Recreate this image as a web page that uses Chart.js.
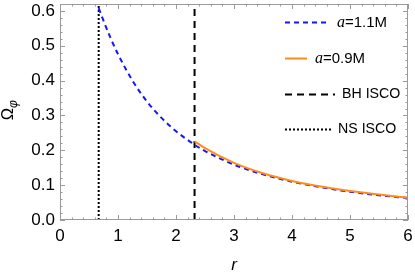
<!DOCTYPE html>
<html><head><meta charset="utf-8">
<script src="https://cdn.jsdelivr.net/npm/chart.js@4.4.0/dist/chart.umd.min.js"></script>
<style>html,body{margin:0;padding:0;background:#fff}</style>
</head><body>
<canvas id="c" width="415" height="280"></canvas>
<script>
// ---- data ----
const rBlue = [0.667, 0.75, 0.875, 1.0, 1.25, 1.5, 1.75, 2.0, 2.33, 2.5, 3.0, 3.5, 4.0, 4.5, 5.0, 5.5, 6.0];
const omegaBlue = [0.608, 0.572, 0.521, 0.476, 0.400, 0.340, 0.293, 0.255, 0.215, 0.198, 0.159, 0.131, 0.110, 0.094, 0.081, 0.071, 0.063];
const rOrange = [2.32, 2.5, 3.0, 3.5, 4.0, 4.5, 5.0, 5.5, 6.0];
const omegaOrange = [0.226, 0.206, 0.164, 0.134, 0.112, 0.096, 0.083, 0.073, 0.064];
const bhIsco = 2.32;
const nsIsco = 0.667;
const seriesNames = ['a=1.1M', 'a=0.9M', 'BH ISCO', 'NS ISCO'];
const xTickValues = [0, 1, 2, 3, 4, 5, 6];
const yTickValues = [0.0, 0.1, 0.2, 0.3, 0.4, 0.5, 0.6];
const xRange = [0, 6];
const yRange = [0, 0.62];

const pts = (xs, ys) => xs.map((x, i) => ({x: x, y: ys[i]}));
const vline = (x) => [{x: x, y: yRange[0]}, {x: x, y: yRange[1]}];

const FONT = "'Liberation Sans', Arial, sans-serif";
const GREY = '#9a9a9a';

const framePlugin = {
  id: 'frame',
  afterDraw(chart) {
    const {ctx, chartArea: a, scales: {x, y}} = chart;
    ctx.save();
    ctx.strokeStyle = GREY;
    ctx.lineWidth = 1;
    ctx.strokeRect(a.left + 0.5, a.top + 0.5, a.right - a.left - 1, a.bottom - a.top - 1);
    ctx.beginPath();
    for (let v = xRange[0]; v <= xRange[1] + 1e-9; v += 0.2) {
      const major = Math.abs(v - Math.round(v)) < 1e-6;
      const L = major ? 5 : 2.5;
      const px = Math.round(x.getPixelForValue(v)) + 0.5;
      ctx.moveTo(px, a.bottom); ctx.lineTo(px, a.bottom - L);
      ctx.moveTo(px, a.top); ctx.lineTo(px, a.top + L);
    }
    for (let v = yRange[0]; v <= yRange[1] + 1e-9; v += 0.02) {
      const k = Math.round(v * 100);
      const major = k % 10 === 0;
      const L = major ? 5 : 2.5;
      const py = Math.round(y.getPixelForValue(v)) + 0.5;
      ctx.moveTo(a.left, py); ctx.lineTo(a.left + L, py);
      ctx.moveTo(a.right, py); ctx.lineTo(a.right - L, py);
    }
    ctx.stroke();

    // y-axis title  Ω_φ
    ctx.fillStyle = '#000';
    ctx.translate(0, (a.top + a.bottom) / 2);
    ctx.rotate(-Math.PI / 2);
    ctx.textAlign = 'center';
    ctx.textBaseline = 'alphabetic';
    ctx.font = "16.5px " + FONT;
    ctx.fillText('Ω', -2, 13);
    ctx.font = "italic 12px " + FONT;
    ctx.fillText('φ', 8, 16.5);
    ctx.restore();

    // legend
    const ds = chart.data.datasets;
    const items = [
      {d: ds[0], y: 22.5, x0: 285, x1: 327, tx: 337},
      {d: ds[1], y: 58.5, x0: 285, x1: 307, tx: 315},
      {d: ds[2], y: 94.5, x0: 285, x1: 335, tx: 342},
      {d: ds[3], y: 129.5, x0: 285, x1: 331, tx: 338}
    ];
    ctx.save();
    items.forEach(it => {
      ctx.strokeStyle = it.d.borderColor;
      ctx.lineWidth = it.d.borderWidth;
      ctx.setLineDash(it.d.borderDash || []);
      ctx.beginPath();
      ctx.moveTo(it.x0, it.y); ctx.lineTo(it.x1, it.y);
      ctx.stroke();
      ctx.setLineDash([]);
      ctx.fillStyle = '#000';
      ctx.textBaseline = 'middle';
      ctx.textAlign = 'left';
      const label = it.d.label;
      let tx = it.tx;
      if (label.startsWith('a=')) {
        ctx.font = "italic 16px 'Liberation Serif', serif";
        ctx.fillText('a', tx, it.y);
        tx += ctx.measureText('a').width;
        ctx.font = "15px " + FONT;
        ctx.fillText(label.slice(1), tx, it.y);
      } else {
        ctx.font = "14.2px " + FONT;
        ctx.fillText(label, tx, it.y);
      }
    });
    ctx.restore();
  }
};

new Chart(document.getElementById('c'), {
  type: 'scatter',
  data: {
    datasets: [
      {label: seriesNames[0], data: pts(rBlue, omegaBlue), showLine: true, borderColor: '#1414ff',
       borderWidth: 2, borderDash: [5, 4], pointRadius: 0, cubicInterpolationMode: 'monotone', order: 1},
      {label: seriesNames[1], data: pts(rOrange, omegaOrange), showLine: true, borderColor: '#ff8c1a',
       borderWidth: 2, pointRadius: 0, cubicInterpolationMode: 'monotone', order: 0},
      {label: seriesNames[2], data: vline(bhIsco), showLine: true, borderColor: '#000',
       borderWidth: 2, borderDash: [7, 5], pointRadius: 0, order: 2},
      {label: seriesNames[3], data: vline(nsIsco), showLine: true, borderColor: '#000',
       borderWidth: 2, borderDash: [2, 2], pointRadius: 0, order: 3}
    ]
  },
  options: {
    responsive: false,
    animation: false,
    events: [],
    layout: {padding: {top: 4, right: 7, left: 0, bottom: 0}},
    plugins: {legend: {display: false}, tooltip: {enabled: false}},
    scales: {
      x: {
        type: 'linear', min: xRange[0], max: xRange[1],
        grid: {display: false, drawTicks: false},
        border: {display: false},
        afterBuildTicks: s => { s.ticks = xTickValues.map(v => ({value: v})); },
        ticks: {color: '#000', padding: 6, font: {family: FONT, size: 17}, maxRotation: 0,
                callback: v => String(v)},
        title: {display: true, text: 'r', color: '#000', padding: {top: 0, bottom: 5},
                font: {family: FONT, size: 17, style: 'italic'}},
        afterFit: s => { s.height = 60; s.paddingLeft = 0; s.paddingRight = 0; }
      },
      y: {
        type: 'linear', min: yRange[0], max: yRange[1],
        grid: {display: false, drawTicks: false},
        border: {display: false},
        afterBuildTicks: s => { s.ticks = yTickValues.map(v => ({value: v})); },
        ticks: {color: '#000', padding: 5, font: {family: FONT, size: 17},
                callback: v => Number(v).toFixed(1)},
        afterFit: s => { s.width = 60; s.paddingTop = 0; s.paddingBottom = 0; }
      }
    }
  },
  plugins: [framePlugin]
});
</script>
</body></html>
